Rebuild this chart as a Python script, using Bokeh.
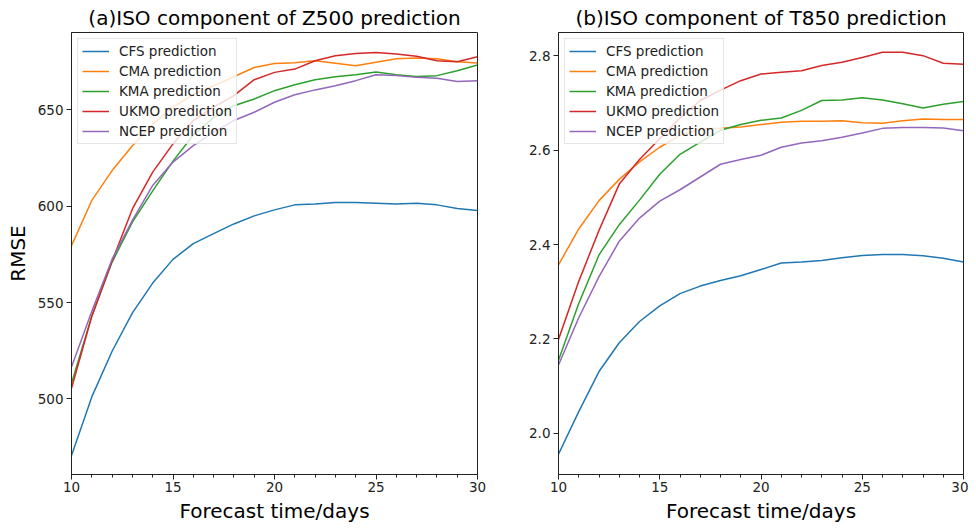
from bokeh.plotting import figure
from bokeh.layouts import row
from bokeh.models import Range1d, FixedTicker, SingleIntervalTicker, NumeralTickFormatter
from bokeh.embed import file_html
from bokeh.resources import INLINE

days = list(range(10, 31))
models = ["CFS", "CMA", "KMA", "UKMO", "NCEP"]
colors = ["#1f77b4", "#ff7f0e", "#2ca02c", "#d62728", "#9467bd"]

# (a) Z500
z500_cfs = [470.5, 501.0, 524.7, 544.6, 560.1, 572.4, 580.6, 585.8, 590.8, 595.0, 598.1,
            600.7, 601.2, 601.9, 601.9, 601.6, 601.2, 601.5, 600.7, 598.8, 597.8]
z500_cma = [579.5, 603.0, 618.5, 631.4, 642.5, 651.5, 658.0, 662.5, 667.2, 672.0, 674.1,
            674.5, 675.5, 674.2, 672.9, 674.8, 676.6, 677.0, 676.6, 675.0, 674.3]
z500_kma = [508.0, 543.0, 571.0, 591.7, 608.0, 623.4, 637.0, 646.0, 652.2, 655.7, 660.0,
            663.1, 665.7, 667.2, 668.3, 669.7, 668.3, 667.4, 667.8, 670.3, 673.3]
z500_ukmo = [505.5, 542.8, 571.5, 598.6, 617.7, 632.4, 644.5, 651.5, 657.4, 665.7, 669.5,
             671.2, 675.5, 678.1, 679.3, 679.8, 679.0, 677.9, 675.5, 675.0, 677.6]
z500_ncep = [516.5, 545.5, 572.5, 592.6, 610.8, 622.9, 631.5, 638.5, 644.5, 648.8, 654.0,
             657.9, 660.4, 662.6, 665.2, 668.3, 667.9, 666.9, 666.4, 664.8, 665.2]

# (b) T850
t850_cfs = [1.956, 2.046, 2.131, 2.192, 2.237, 2.270, 2.296, 2.312, 2.324, 2.334, 2.347,
            2.361, 2.363, 2.366, 2.372, 2.377, 2.379, 2.379, 2.376, 2.371, 2.363]
t850_cma = [2.357, 2.433, 2.493, 2.538, 2.575, 2.606, 2.631, 2.645, 2.646, 2.649, 2.654,
            2.659, 2.661, 2.661, 2.662, 2.658, 2.657, 2.662, 2.666, 2.665, 2.665]
t850_kma = [2.155, 2.275, 2.378, 2.442, 2.494, 2.549, 2.591, 2.617, 2.642, 2.654, 2.663,
            2.668, 2.684, 2.705, 2.706, 2.711, 2.706, 2.698, 2.689, 2.697, 2.703]
t850_ukmo = [2.199, 2.322, 2.430, 2.528, 2.580, 2.624, 2.668, 2.705, 2.727, 2.747, 2.761,
             2.765, 2.768, 2.779, 2.786, 2.796, 2.807, 2.807, 2.800, 2.784, 2.782]
t850_ncep = [2.145, 2.245, 2.332, 2.407, 2.456, 2.492, 2.516, 2.543, 2.570, 2.580, 2.589,
             2.606, 2.615, 2.620, 2.627, 2.636, 2.646, 2.648, 2.648, 2.647, 2.641]

z500_yticks = [500, 550, 600, 650]
t850_yticks = [2.0, 2.2, 2.4, 2.6, 2.8]
x_label = "Forecast time/days"
y_label = "RMSE"

FONT = "DejaVu Sans"
TOP, BOTTOM = 32, 50
FRAME_H = 443


def make_panel(title, series, yr, yticks, fmt, ylabel, border_left, border_right, frame_w):
    p = figure(width=border_left + frame_w + border_right, height=TOP + FRAME_H + BOTTOM,
               x_range=Range1d(10, 30), y_range=Range1d(*yr),
               output_backend="svg", toolbar_location=None,
               min_border_left=border_left, min_border_right=border_right,
               min_border_top=TOP, min_border_bottom=BOTTOM)
    for name, ys, c in zip(models, series, colors):
        p.line(days, ys, line_color=c, line_width=1.5, legend_label=name + " prediction")
    p.title.text = title
    p.title.align = "center"
    p.title.text_font = FONT
    p.title.text_font_size = "20px"
    p.title.text_font_style = "normal"
    p.title.text_color = "black"
    p.title.standoff = 6
    p.xgrid.visible = False
    p.ygrid.visible = False
    p.outline_line_color = "#222222"
    p.outline_line_width = 1
    p.background_fill_color = "white"
    p.border_fill_color = "white"

    p.xaxis.ticker = SingleIntervalTicker(interval=5, num_minor_ticks=5)
    p.yaxis.ticker = FixedTicker(ticks=yticks)
    p.yaxis.formatter = NumeralTickFormatter(format=fmt)
    for ax in (p.xaxis[0], p.yaxis[0]):
        ax.axis_line_color = "#222222"
        ax.major_tick_line_color = "#222222"
        ax.major_tick_in = 0
        ax.major_tick_out = 5
        ax.major_label_text_font = FONT
        ax.major_label_text_font_size = "13.5px"
        ax.major_label_text_color = "#222222"
        ax.major_label_standoff = 2
        ax.axis_label_text_font = FONT
        ax.axis_label_text_font_size = "20px"
        ax.axis_label_text_font_style = "normal"
        ax.axis_label_text_color = "black"
    p.yaxis.major_label_standoff = 3
    p.xaxis.minor_tick_line_color = "#222222"
    p.xaxis.minor_tick_in = 0
    p.xaxis.minor_tick_out = 3
    p.yaxis.minor_tick_line_color = None
    p.xaxis.axis_label = x_label
    p.xaxis.axis_label_standoff = 4
    if ylabel:
        p.yaxis.axis_label = ylabel
        p.yaxis.axis_label_standoff = 5

    lg = p.legend[0]
    lg.location = "top_left"
    lg.margin = 6
    lg.border_line_color = "#cccccc"
    lg.border_line_width = 1
    lg.background_fill_color = "white"
    lg.background_fill_alpha = 0.8
    lg.label_text_font = FONT
    lg.label_text_font_size = "13.5px"
    lg.label_text_color = "#222222"
    lg.glyph_width = 27
    lg.glyph_height = 16
    lg.label_height = 16
    lg.spacing = 4
    lg.padding = 4
    lg.label_standoff = 10
    return p


p1 = make_panel("(a)ISO component of Z500 prediction",
                [z500_cfs, z500_cma, z500_kma, z500_ukmo, z500_ncep],
                (460.7, 690.2), z500_yticks, "0", y_label, 71, 10, 406)
p2 = make_panel("(b)ISO component of T850 prediction",
                [t850_cfs, t850_cma, t850_kma, t850_ukmo, t850_ncep],
                (1.913, 2.849), t850_yticks, "0.0", None, 71, 5, 405)

layout = row(p1, p2)
open("out.html", "w").write(file_html(layout, INLINE))
